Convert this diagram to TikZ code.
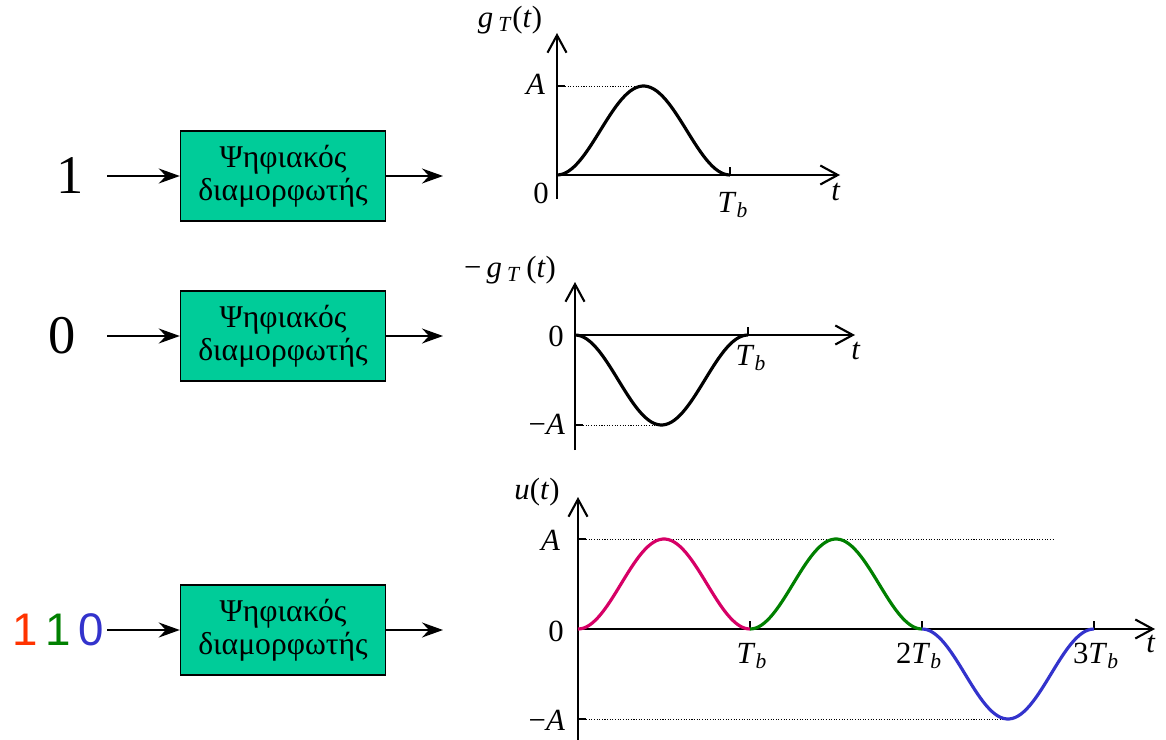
\documentclass[tikz,border=0pt]{standalone}
\usepackage{fontspec}
\setmainfont{Liberation Serif}
\newfontfamily\sansdigits{Liberation Sans}
\usetikzlibrary{arrows.meta}
\definecolor{modgreen}{RGB}{0,204,153}
\definecolor{mypink}{RGB}{214,0,102}
\definecolor{mygreen}{RGB}{0,128,0}
\definecolor{myblue}{RGB}{51,51,204}
\definecolor{myred}{RGB}{255,51,0}
\newcommand{\Tb}{\textit{T}\textsubscript{\textit{b}}}
\tikzset{
  modbox/.style={draw, line width=0.8pt, fill=modgreen, minimum width=4.1cm, minimum height=1.8cm,
    align=center, font=\fontsize{18}{19}\selectfont},
  sig/.style={line width=1.1pt, -{Stealth[length=4.2mm, width=3mm, inset=1.4mm]}},
  axis/.style={line width=1.2pt, -{Straight Barb[length=3.5mm, width=3.8mm, line width=1.2pt]}},
  tick/.style={line width=1.2pt},
  guide/.style={line width=0.5pt, dash pattern=on 0.6pt off 0.9pt},
  pulse/.style={line width=1.8pt},
  lbl/.style={font=\fontsize{17.5}{19}\selectfont, inner sep=1pt},
  bit/.style={font=\fontsize{31}{33}\selectfont}
}
\begin{document}
\begin{tikzpicture}[x=0.2mm, y=-0.2mm]
\useasboundingbox (0,0) rectangle (1166,740);

% modulators
\node[modbox] (mod1) at (283,176) {Ψηφιακός\\διαμορφωτής};
\node[modbox] (mod2) at (283,336) {Ψηφιακός\\διαμορφωτής};
\node[modbox] (mod3) at (283,630) {Ψηφιακός\\διαμορφωτής};

\node[bit] (in1) at (70,176) {1};
\node[bit] (in2) at (62,336) {0};
\node[bit, font=\sansdigits\fontsize{26}{28}\selectfont] (in3) at (58,630)
  {\textcolor{myred}{1}\,\textcolor{mygreen}{1}\,\textcolor{myblue}{0}};

\coordinate (src1) at (107,176);
\coordinate (src2) at (107,336);
\coordinate (src3) at (107,630);
\coordinate (dst1) at (443,176);
\coordinate (dst2) at (443,336);
\coordinate (dst3) at (443,630);

\draw[sig] (src1) -- (mod1.west);
\draw[sig] (src2) -- (mod2.west);
\draw[sig] (src3) -- (mod3.west);
\draw[sig] (mod1.east) -- (dst1);
\draw[sig] (mod2.east) -- (dst2);
\draw[sig] (mod3.east) -- (dst3);

% g_T(t)
\coordinate (o1) at (557,175);
\draw[axis] (557,199) -- (557,33);
\draw[axis] (o1) -- (840,175);
\draw[tick] (o1) ++(0,-89) -- ++(8,0) coordinate (a1);
\draw[tick] (730,175) -- (730,167);
\draw[guide] (a1) -- (643,86);
\draw[pulse] plot[domain=0:1, samples=60] ({557+173*\x},{175-89*(1-cos(360*\x))/2});
\node[lbl] (gT) at (510,20) {\textit{g}\,\textsubscript{\textit{T}}(\textit{t})};
\node[lbl, anchor=east] (A1) at (547,84) {\textit{A}};
\node[lbl] (z1) at (541,193) {0};
\node[lbl] (Tb1) at (733,205) {\Tb};
\node[lbl] (t1) at (836,192) {\textit{t}};

% -g_T(t)
\coordinate (o2) at (575,335);
\draw[axis] (575,450) -- (575,282);
\draw[axis] (o2) -- (855,335);
\draw[tick] (o2) ++(0,90) -- ++(8,0) coordinate (a2);
\draw[tick] (748,335) -- (748,327);
\draw[guide] (a2) -- (661,425);
\draw[pulse] plot[domain=0:1, samples=60] ({575+173*\x},{335+90*(1-cos(360*\x))/2});
\node[lbl] (mgT) at (510,270) {−\,\textit{g}\,\textsubscript{\textit{T}}\,(\textit{t})};
\node[lbl] (z2) at (556,336) {0};
\node[lbl, anchor=east] (mA2) at (567,424) {−\textit{A}};
\node[lbl] (Tb2) at (751,358) {\Tb};
\node[lbl] (t2) at (856,351) {\textit{t}};

% u(t)
\coordinate (o3) at (578,629);
\draw[axis] (578,740) -- (578,497);
\draw[axis] (o3) -- (1155,629);
\draw[tick] (o3) ++(0,-90) -- ++(8,0) coordinate (a3);
\draw[tick] (o3) ++(0,90) -- ++(8,0) coordinate (b3);
\foreach \k in {1,2,3}
  \draw[tick] ({578+172*\k},629) -- ({578+172*\k},621);
\draw[guide] (a3) -- (1053,539);
\draw[guide] (b3) -- (1008,719);
\foreach \k/\s/\c in {0/1/mypink, 1/1/mygreen, 2/-1/myblue}
  \draw[pulse, color=\c] plot[domain=0:1, samples=60] ({578+172*(\k+\x)},{629-\s*90*(1-cos(360*\x))/2});
\node[lbl] (u) at (537,492) {\textit{u}(\textit{t})};
\node[lbl, anchor=east] (A3) at (562,540) {\textit{A}};
\node[lbl] (z3) at (556,631) {0};
\node[lbl, anchor=east] (mA3) at (567,720) {−\textit{A}};
\node[lbl] (Tb3) at (752,656) {\Tb};
\node[lbl] (Tb32) at (919,656) {2\Tb};
\node[lbl] (Tb33) at (1096,656) {3\Tb};
\node[lbl] (t3) at (1151,644) {\textit{t}};
\end{tikzpicture}
\end{document}
